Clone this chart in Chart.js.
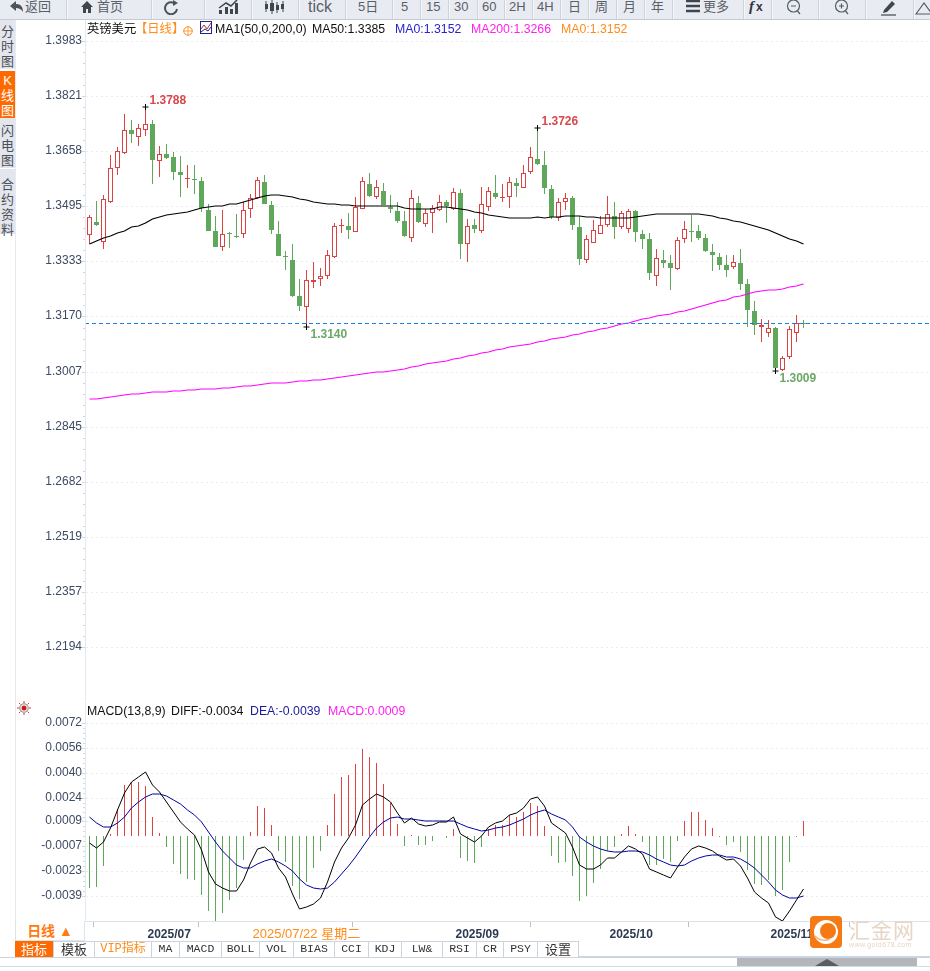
<!DOCTYPE html>
<html lang="zh">
<head>
<meta charset="UTF-8">
<title>英镑美元 日线</title>
<script src="https://cdn.jsdelivr.net/npm/chart.js"></script>
<style>
    html, body { margin: 0; padding: 0; background: #fff; overflow: hidden; }
    body { width: 930px; height: 971px; position: relative; font-family: "Liberation Sans", "Noto Sans CJK SC", sans-serif; }
    canvas { position: absolute; left: 15px; }
    #priceChart { top: 20px; }
    #macdChart { top: 702px; }
    .abs { position: absolute; white-space: nowrap; }
    #toolbar { position: absolute; left: 0; top: 0; width: 930px; height: 19px; background: #e9ebf2; border-bottom: 1px solid #c6cad3; overflow: hidden; }
    #toolbar .sep { position: absolute; top: 0; width: 1px; height: 19px; background: #cfd2da; border-right: 1px solid #f6f7fa; }
    #toolbar .t { position: absolute; top: 0; height: 13px; line-height: 13px; font-size: 13px; color: #5a5f68; white-space: nowrap; }
    #toolbar svg { position: absolute; top: 0; }
    .side { position: absolute; left: 0; width: 15px; background: #e4e6ee; color: #4a4f58; font-size: 13px; line-height: 15px; text-align: center; }
    .legend { position: absolute; font-size: 12.3px; line-height: 16px; white-space: nowrap; color: #111; z-index: 3; }
    .tab { position: absolute; top: 941px; height: 16px; line-height: 16px; text-align: center; font-size: 11.5px; color: #333; font-family: "Liberation Mono", "Noto Sans CJK SC", monospace; border-right: 1px solid #cdd4de; box-sizing: border-box; }
</style>
</head>
<body>

<div id="toolbar">
    <svg style="left:10px" width="14" height="14" viewBox="0 0 14 14"><path d="M0 6 L6 1 V4 C11 4 13 7 13 12 C11 9 9 8 6 8 V11 Z" fill="#4c525c"/></svg>
    <span class="t" style="left:25px">返回</span>
    <svg style="left:80px" width="14" height="14" viewBox="0 0 14 14"><path d="M7 1 L13 7 H11 V13 H8 V9 H6 V13 H3 V7 H1 Z" fill="#3f454f"/></svg>
    <span class="t" style="left:97px">首页</span>
    <svg style="left:163px" width="17" height="15" viewBox="0 0 17 15"><path d="M14 9 A6 6 0 1 1 11 3" fill="none" stroke="#4c525c" stroke-width="2"/><path d="M10 0 L15 3 L10 6 Z" fill="#4c525c"/></svg>
    <svg style="left:218px" width="20" height="14" viewBox="0 0 20 14"><path d="M1 14 V10 H4 V14 Z M7 14 V7 H10 V14 Z M12 14 V9 H15 V14 Z M17 14 V3 H20 V14 Z" fill="#3f454f"/><path d="M1 8 L8 3 L13 6 L19 0" fill="none" stroke="#3f454f" stroke-width="1.5"/></svg>
    <svg style="left:264px" width="21" height="14" viewBox="0 0 21 14"><path d="M2 1 V12 M8 0 V14 M13 2 V13 M19 1 V12" stroke="#3f454f" stroke-width="1"/><path d="M1 4 H4 V9 H1 Z M6 3 H10 V11 H6 Z M12 5 H15 V10 H12 Z M17 4 H20 V9 H17 Z" fill="#3f454f"/></svg>
    <span class="t" style="left:308px;font-size:16px;height:16px;line-height:14px">tick</span>
    <span class="t" style="left:358px">5日</span>
    <span class="t" style="left:401px">5</span>
    <span class="t" style="left:426px">15</span>
    <span class="t" style="left:454px">30</span>
    <span class="t" style="left:482px">60</span>
    <span class="t" style="left:509px">2H</span>
    <span class="t" style="left:537px">4H</span>
    <span class="t" style="left:568px">日</span>
    <span class="t" style="left:595px">周</span>
    <span class="t" style="left:623px">月</span>
    <span class="t" style="left:651px">年</span>
    <svg style="left:686px" width="14" height="13" viewBox="0 0 14 13"><path d="M0 1 H14 M0 6 H14 M0 11 H14" stroke="#3f454f" stroke-width="2.4"/></svg>
    <span class="t" style="left:703px">更多</span>
    <span class="t" style="left:749px;font-size:15px;font-weight:bold;color:#2f343c;font-family:'Liberation Serif',serif;font-style:italic">f</span>
    <span class="t" style="left:756px;font-size:12px;font-weight:bold;color:#2f343c;top:1px">x</span>
    <svg style="left:786px" width="17" height="16" viewBox="0 0 17 16"><circle cx="7.5" cy="6" r="6" fill="none" stroke="#555b65" stroke-width="1.2"/><path d="M5 6 H10 M11.5 11 L14 14" stroke="#555b65" stroke-width="1.2"/></svg>
    <svg style="left:834px" width="17" height="16" viewBox="0 0 17 16"><circle cx="7.5" cy="6" r="6" fill="none" stroke="#555b65" stroke-width="1.2"/><path d="M5 6 H10 M7.5 3.5 V8.5 M11.5 11 L14 14" stroke="#555b65" stroke-width="1.2"/></svg>
    <svg style="left:881px" width="16" height="16" viewBox="0 0 16 16"><path d="M3 10 L11 1 L14 4 L6 12 L2 13 Z" fill="#3f454f"/><path d="M0 15 H15" stroke="#3f454f" stroke-width="1.2"/></svg>
    <svg style="left:915px" width="15" height="16" viewBox="0 0 15 16"><path d="M1 14 L9 3 L17 14 Z" fill="none" stroke="#555b65" stroke-width="1.2"/></svg>
</div>
<script>
    // toolbar separators
    const toolbarSeps = [66, 151, 204, 251, 298, 345, 392, 420, 448, 477, 504, 532, 560, 588, 616, 644, 672, 743, 771, 818, 865, 913];
    toolbarSeps.forEach(x => {
        const d = document.createElement('div');
        d.className = 'sep';
        d.style.left = x + 'px';
        document.getElementById('toolbar').appendChild(d);
    });
</script>

<div class="side" style="top:20px;height:49px;padding-top:4px;box-sizing:border-box">分<br>时<br>图</div>
<div class="side" style="top:71px;height:47px;background:#ff6a00;color:#fff;padding-top:2px;box-sizing:border-box">K<br>线<br>图</div>
<div class="side" style="top:118px;height:50px;padding-top:5px;box-sizing:border-box">闪<br>电<br>图</div>
<div class="side" style="top:169px;height:65px;padding-top:8px;box-sizing:border-box">合<br>约<br>资<br>料</div>
<div class="abs" style="left:15px;top:20px;width:1px;height:901px;background:#e6ebf1"></div>

<div class="legend" style="left:87px;top:21px">英镑美元</div>
<div class="legend" style="left:135px;top:21px;color:#ff8c1a">【日线】</div>
<svg class="abs" style="left:183px;top:26px" width="10" height="10" viewBox="0 0 10 10"><circle cx="5" cy="5" r="4.2" fill="none" stroke="#ff8c1a"/><path d="M0 5 H10 M5 0 V10" stroke="#ff8c1a" stroke-width="0.8"/></svg>
<svg class="abs" style="left:200px;top:21px" width="12" height="13" viewBox="0 0 12 13"><rect x="0.5" y="0.5" width="11" height="12" fill="#fff" stroke="#1a2a8a"/><path d="M1 8 L4 4 L7 8 L11 2" fill="none" stroke="#d02030"/><path d="M1 11 L5 8 L8 10 L11 6" fill="none" stroke="#1a2a8a"/></svg>
<div class="legend" style="left:215px;top:21px">MA1(50,0,200,0)</div>
<div class="legend" style="left:312px;top:21px">MA50:1.3385</div>
<div class="legend" style="left:395px;top:21px;color:#2a22cc">MA0:1.3152</div>
<div class="legend" style="left:471px;top:21px;color:#ff22ee">MA200:1.3266</div>
<div class="legend" style="left:561px;top:21px;color:#ff8c1a">MA0:1.3152</div>

<canvas id="priceChart" width="915" height="681"></canvas>
<canvas id="macdChart" width="915" height="238"></canvas>

<svg class="abs" style="left:17px;top:701px" width="14" height="14" viewBox="0 0 14 14"><circle cx="7" cy="7" r="2.5" fill="#d01818"/><circle cx="7" cy="7" r="4.2" fill="none" stroke="#444" stroke-width="0.7"/><path d="M7 0 V2 M7 12 V14 M0 7 H2 M12 7 H14 M2 2 L3.4 3.4 M10.6 10.6 L12 12 M12 2 L10.6 3.4 M3.4 10.6 L2 12" stroke="#e02020" stroke-width="0.9"/></svg>
<div class="legend" style="left:87px;top:703px">MACD(13,8,9)</div>
<div class="legend" style="left:171px;top:703px">DIFF:-0.0034</div>
<div class="legend" style="left:250px;top:703px;color:#1a1a9c">DEA:-0.0039</div>
<div class="legend" style="left:328px;top:703px;color:#ff22ee">MACD:0.0009</div>

<div class="abs" style="left:15px;top:921px;width:70px;height:20px;line-height:20px;text-align:center;color:#ff7a10;font-size:14px;font-weight:bold;box-sizing:border-box;border:1px solid #dfe4ea;border-top:none;background:#fff">日线 ▲</div>

<div class="abs" style="left:15px;top:941px;width:564px;height:1px;background:#cdd4de"></div>
<div class="tab" style="left:15px;width:39px;background:#ff6a00;color:#fff;font-size:13px;font-family:'Noto Sans CJK SC',sans-serif">指标</div>
<div class="tab" style="left:54px;width:41px;font-size:13px;font-family:'Noto Sans CJK SC',sans-serif">模板</div>
<div class="tab" style="left:95px;width:57px;color:#ff8c1a;font-size:12px">VIP指标</div>
<div class="tab" style="left:152px;width:28px">MA</div>
<div class="tab" style="left:180px;width:42px">MACD</div>
<div class="tab" style="left:222px;width:38px">BOLL</div>
<div class="tab" style="left:260px;width:34px">VOL</div>
<div class="tab" style="left:294px;width:41px">BIAS</div>
<div class="tab" style="left:335px;width:34px">CCI</div>
<div class="tab" style="left:369px;width:33px">KDJ</div>
<div class="tab" style="left:402px;width:41px">LW&amp;</div>
<div class="tab" style="left:443px;width:34px">RSI</div>
<div class="tab" style="left:477px;width:27px">CR</div>
<div class="tab" style="left:504px;width:34px">PSY</div>
<div class="tab" style="left:538px;width:41px;font-size:13px;font-family:'Noto Sans CJK SC',sans-serif">设置</div>

<div class="abs" style="left:0;top:957px;width:930px;height:1px;background:#cdd4de"></div>
<div class="abs" style="left:579px;top:956px;width:351px;height:2px;background:#c9d5e0"></div>
<div class="abs" style="left:0;top:966px;width:930px;height:1px;background:#d5dbe3"></div>
<div class="abs" style="left:737px;top:958px;width:180px;height:8px;background:#b5b6bc"></div>
<svg class="abs" style="left:815px;top:958px" width="24" height="8"><path d="M0 8 L12 1 L24 8 Z" fill="#5c5d63"/></svg>

<!-- watermark -->
<div class="abs" style="left:810px;top:916px;width:32px;height:32px;background:#f57a14;border-radius:4px;z-index:5"></div>
<svg class="abs" style="left:810px;top:916px;z-index:6" width="32" height="32" viewBox="0 0 32 32"><circle cx="16" cy="16" r="12" fill="#fff"/><circle cx="18" cy="15" r="8" fill="#f57a14"/><path d="M5 20 C10 26 18 24 20 23" stroke="#f9b27a" stroke-width="1.5" fill="none"/></svg>
<div class="abs" style="left:849px;top:917px;font-size:21px;line-height:24px;letter-spacing:1px;color:#e7d6c6;font-family:'Noto Sans CJK SC',sans-serif;z-index:5">汇金网</div>
<div class="abs" style="left:849px;top:941px;font-size:7px;line-height:8px;letter-spacing:0.4px;color:#e7d6c6;z-index:5">www.gold678.com</div>

<script>
    // daily candles, oldest first
    const opens = [1.3412,1.3449,1.3391,1.3507,1.3610,1.3654,1.3721,1.3699,1.3720,1.3739,
        1.3628,1.3649,1.3641,1.3597,1.3576,1.3577,1.3570,1.3485,1.3422,1.3374,
        1.3416,1.3408,1.3413,1.3487,1.3521,1.3567,1.3498,1.3414,1.3349,1.3337,
        1.3230,1.3199,1.3273,1.3280,1.3291,1.3345,1.3437,1.3436,1.3421,1.3489,
        1.3561,1.3524,1.3541,1.3494,1.3481,1.3451,1.3403,1.3504,1.3444,1.3475,
        1.3484,1.3507,1.3487,1.3534,1.3385,1.3439,1.3424,1.3492,1.3534,1.3519,
        1.3524,1.3563,1.3550,1.3598,1.3634,1.3618,1.3546,1.3460,1.3509,1.3520,
        1.3434,1.3338,1.3388,1.3415,1.3441,1.3466,1.3435,1.3428,1.3481,1.3413,
        1.3398,1.3291,1.3337,1.3327,1.3311,1.3398,1.3423,1.3422,1.3402,1.3362,
        1.3345,1.3321,1.3317,1.3328,1.3265,1.3185,1.3138,1.3122,1.3136,1.3011,
        1.3049,1.3120,1.3152];
    const closes = [1.3463,1.3440,1.3516,1.3608,1.3658,1.3720,1.3710,1.3726,1.3738,1.3633,
        1.3649,1.3638,1.3598,1.3589,1.3579,1.3574,1.3490,1.3423,1.3376,1.3413,
        1.3413,1.3404,1.3484,1.3519,1.3572,1.3503,1.3426,1.3350,1.3345,1.3231,
        1.3202,1.3277,1.3277,1.3291,1.3351,1.3436,1.3440,1.3426,1.3492,1.3569,
        1.3526,1.3552,1.3499,1.3488,1.3453,1.3408,1.3519,1.3450,1.3475,1.3491,
        1.3507,1.3496,1.3537,1.3384,1.3438,1.3429,1.3501,1.3540,1.3523,1.3522,
        1.3566,1.3555,1.3593,1.3640,1.3620,1.3550,1.3463,1.3507,1.3519,1.3441,
        1.3340,1.3398,1.3425,1.3439,1.3472,1.3435,1.3475,1.3481,1.3421,1.3399,
        1.3299,1.3342,1.3329,1.3314,1.3395,1.3427,1.3420,1.3403,1.3364,1.3353,
        1.3322,1.3308,1.3330,1.3267,1.3190,1.3146,1.3144,1.3135,1.3019,1.3046,
        1.3132,1.3152,1.3149];
    const highs = [1.3470,1.3511,1.3529,1.3647,1.3670,1.3768,1.3751,1.3739,1.3788,1.3751,
        1.3674,1.3680,1.3656,1.3644,1.3618,1.3618,1.3581,1.3502,1.3467,1.3485,
        1.3420,1.3473,1.3507,1.3532,1.3581,1.3588,1.3511,1.3452,1.3364,1.3384,
        1.3280,1.3307,1.3331,1.3314,1.3366,1.3446,1.3458,1.3476,1.3522,1.3581,
        1.3594,1.3573,1.3563,1.3529,1.3507,1.3481,1.3544,1.3526,1.3488,1.3498,
        1.3528,1.3514,1.3549,1.3546,1.3457,1.3458,1.3552,1.3554,1.3588,1.3561,
        1.3582,1.3578,1.3618,1.3671,1.3726,1.3659,1.3557,1.3519,1.3534,1.3526,
        1.3467,1.3410,1.3454,1.3466,1.3526,1.3508,1.3483,1.3488,1.3484,1.3426,
        1.3416,1.3368,1.3366,1.3353,1.3406,1.3451,1.3471,1.3439,1.3413,1.3384,
        1.3357,1.3352,1.3351,1.3369,1.3280,1.3217,1.3162,1.3160,1.3139,1.3053,
        1.3142,1.3174,1.3160];
    const lows = [1.3384,1.3437,1.3370,1.3506,1.3589,1.3651,1.3684,1.3675,1.3704,1.3562,
        1.3583,1.3634,1.3574,1.3524,1.3549,1.3533,1.3480,1.3423,1.3376,1.3364,
        1.3373,1.3403,1.3403,1.3462,1.3516,1.3503,1.3414,1.3350,1.3307,1.3228,
        1.3187,1.3140,1.3255,1.3261,1.3281,1.3344,1.3418,1.3400,1.3420,1.3487,
        1.3522,1.3518,1.3499,1.3477,1.3447,1.3405,1.3391,1.3445,1.3435,1.3418,
        1.3483,1.3447,1.3486,1.3341,1.3332,1.3418,1.3418,1.3483,1.3518,1.3509,
        1.3490,1.3524,1.3549,1.3592,1.3618,1.3533,1.3458,1.3453,1.3485,1.3426,
        1.3323,1.3329,1.3386,1.3415,1.3434,1.3399,1.3429,1.3417,1.3390,1.3369,
        1.3279,1.3260,1.3313,1.3249,1.3308,1.3387,1.3391,1.3396,1.3361,1.3305,
        1.3307,1.3286,1.3309,1.3248,1.3140,1.3115,1.3095,1.3110,1.3009,1.3010,
        1.3045,1.3095,1.3136];

    const ma50 = [1.3385,1.3392,1.3402,1.3408,1.3417,1.3424,1.3433,1.3438,1.3446,1.3457,
        1.3464,1.3469,1.3472,1.3476,1.3479,1.3484,1.3491,1.3494,1.3495,1.3497,
        1.3501,1.3503,1.3508,1.3514,1.3519,1.3526,1.3528,1.3528,1.3525,1.3522,
        1.3518,1.3513,1.3508,1.3504,1.3501,1.3501,1.3500,1.3498,1.3497,1.3497,
        1.3497,1.3497,1.3497,1.3495,1.3495,1.3491,1.3488,1.3487,1.3489,1.3489,
        1.3492,1.3492,1.3491,1.3489,1.3484,1.3480,1.3475,1.3470,1.3466,1.3463,
        1.3462,1.3460,1.3460,1.3460,1.3463,1.3462,1.3463,1.3465,1.3467,1.3467,
        1.3466,1.3465,1.3463,1.3461,1.3460,1.3460,1.3460,1.3462,1.3463,1.3467,
        1.3470,1.3472,1.3472,1.3472,1.3472,1.3472,1.3472,1.3472,1.3470,1.3466,
        1.3462,1.3457,1.3452,1.3448,1.3442,1.3436,1.3431,1.3425,1.3416,1.3408,
        1.3399,1.3392,1.3385];
    const ma200 = [1.2925,1.2926,1.2928,1.2932,1.2935,1.2939,1.2940,1.2941,1.2944,1.2946,
        1.2946,1.2947,1.2949,1.2951,1.2952,1.2953,1.2955,1.2955,1.2956,1.2958,
        1.2960,1.2962,1.2964,1.2966,1.2969,1.2971,1.2973,1.2973,1.2975,1.2976,
        1.2978,1.2980,1.2981,1.2983,1.2986,1.2989,1.2992,1.2994,1.2996,1.2999,
        1.3002,1.3005,1.3006,1.3010,1.3012,1.3016,1.3021,1.3025,1.3030,1.3033,
        1.3036,1.3040,1.3043,1.3047,1.3052,1.3057,1.3061,1.3065,1.3070,1.3075,
        1.3080,1.3084,1.3087,1.3090,1.3094,1.3098,1.3103,1.3106,1.3110,1.3115,
        1.3119,1.3123,1.3128,1.3132,1.3137,1.3142,1.3147,1.3151,1.3156,1.3162,
        1.3166,1.3170,1.3174,1.3176,1.3182,1.3187,1.3192,1.3198,1.3203,1.3209,
        1.3215,1.3220,1.3228,1.3232,1.3237,1.3241,1.3245,1.3247,1.3249,1.3252,
        1.3256,1.3260,1.3266];

    const macdBars = [-0.00335,-0.00329,-0.00194,0.00009,0.0017,0.00324,0.00345,0.00341,0.00318,0.00119,
        0.00016,-0.00074,-0.00181,-0.00245,-0.0028,-0.00284,-0.0038,-0.00483,-0.00547,-0.00496,
        -0.00412,-0.0034,-0.00158,0.00022,0.00189,0.00176,0.00067,-0.001,-0.00168,-0.00323,
        -0.00406,-0.00301,-0.00207,-0.00098,0.00066,0.00266,0.00375,0.00388,0.00459,0.00555,
        0.00502,0.00465,0.0033,0.00206,0.00073,-0.00068,0.00003,-0.00061,-0.00061,-0.00036,
        -0.00006,-0.00014,0.00041,-0.00145,-0.00162,-0.00175,-0.00072,0.00039,0.00069,0.00069,
        0.00129,0.00118,0.00151,0.00208,0.00189,0.00061,-0.00132,-0.00177,-0.00171,-0.00258,
        -0.00419,-0.00387,-0.00305,-0.00213,-0.00098,-0.00072,0.00009,0.00061,0.00009,-0.00042,
        -0.00192,-0.00188,-0.00149,-0.00171,-0.00036,0.00093,0.0015,0.0015,0.00099,0.00048,
        -0.00012,-0.00059,-0.00042,-0.00104,-0.00222,-0.00312,-0.00318,-0.00286,-0.00389,-0.00351,
        -0.00169,-0.00012,0.00093];
    const diff = [-0.00046,-0.00078,-0.0004,0.0005,0.00163,0.00275,0.00345,0.00378,0.00405,0.00324,
        0.00281,0.00217,0.00153,0.00089,0.00039,0.00003,-0.00093,-0.00233,-0.00314,-0.0034,
        -0.00357,-0.00359,-0.00286,-0.00179,-0.00089,-0.00074,-0.00115,-0.00207,-0.00265,-0.00378,
        -0.00475,-0.00462,-0.0044,-0.00404,-0.003,-0.00168,-0.00083,-0.00019,0.00067,0.00196,
        0.00232,0.00266,0.00249,0.00213,0.00142,0.00078,0.0011,0.00073,0.00063,0.00069,
        0.00088,0.00086,0.00116,0.00007,-0.00014,-0.0004,-0.00004,0.00056,0.0008,0.00093,
        0.00131,0.00142,0.00174,0.00234,0.00245,0.00189,0.00078,0.00046,0.00018,-0.00072,
        -0.0019,-0.00218,-0.00216,-0.0019,-0.00147,-0.00147,-0.00104,-0.00068,-0.00087,-0.00119,
        -0.00216,-0.00237,-0.00254,-0.00276,-0.00205,-0.00136,-0.00089,-0.00068,-0.00079,-0.001,
        -0.00132,-0.00158,-0.00154,-0.00196,-0.00276,-0.00361,-0.00404,-0.00432,-0.00522,-0.00548,
        -0.00485,-0.00415,-0.00344];
    const dea = [0.00116,0.00078,0.00054,0.00054,0.00082,0.00121,0.00174,0.00217,0.00247,0.00264,
        0.00264,0.00256,0.00228,0.00202,0.00163,0.00131,0.00089,0.00024,-0.0004,-0.001,
        -0.00147,-0.0019,-0.00211,-0.00211,-0.00186,-0.00164,-0.00153,-0.00168,-0.00194,-0.00226,
        -0.00282,-0.00318,-0.0034,-0.00346,-0.0034,-0.00297,-0.00248,-0.00196,-0.00136,-0.00072,
        -0.00008,0.00046,0.00088,0.0011,0.00116,0.00103,0.00108,0.00099,0.00093,0.00093,
        0.00093,0.00093,0.00093,0.00073,0.00056,0.00039,0.00026,0.00035,0.00048,0.00052,
        0.00065,0.00084,0.00103,0.00131,0.00153,0.00163,0.00138,0.00121,0.00099,0.00052,
        -0.00008,-0.0004,-0.00068,-0.00085,-0.00098,-0.00109,-0.00104,-0.001,-0.001,-0.00104,
        -0.00126,-0.00149,-0.00171,-0.00192,-0.00194,-0.00188,-0.00164,-0.00143,-0.00132,-0.00128,
        -0.00128,-0.00136,-0.00141,-0.00154,-0.00179,-0.00211,-0.00254,-0.00297,-0.00351,-0.00383,
        -0.00404,-0.00402,-0.00391];
    const macdBase = -0.00007; // histogram baseline sits just under the zero of the tick labels

    const priceTicks = [1.3983,1.3821,1.3658,1.3495,1.3333,1.3170,1.3007,1.2845,1.2682,1.2519,1.2357,1.2194];
    const macdTicks = [0.0072,0.0056,0.0040,0.0024,0.0009,-0.0007,-0.0023,-0.0039];
    const xTickIndex = [8, 23, 52, 74, 97];
    const xTickLabels = ['2025/07', '2025/07/22 星期二', '2025/09', '2025/10', '2025/11'];
    const lastPrice = 1.3152;

    // highest and lowest marks on the candles
    const extremeIndex = [8, 31, 64, 98];
    const extremeValues = [1.3788, 1.3140, 1.3726, 1.3009];

    const RED = '#dc4242';
    const GREEN = '#5fa75a';
    const points = arr => arr.map((v, i) => ({ x: i, y: v }));

    // same horizontal mapping on both panels: 7px a day, first candle centred on 89.5
    const xMin = (85 - 89.5) / 7;
    const xMax = (930 - 89.5) / 7;

    // keep the plot area pinned to the canvas edges, labels may overflow
    function noPadding(s) {
        s.paddingTop = 0; s.paddingBottom = 0; s.paddingLeft = 0; s.paddingRight = 0;
    }

    function yAxis(tickValues, min, max) {
        return {
            position: 'left', min, max,
            alignToPixels: true,
            afterFit: s => { s.width = 70; noPadding(s); },
            afterBuildTicks: s => { s.ticks = tickValues.map(value => ({ value })); },
            ticks: {
                autoSkip: false, padding: 0, color: '#3d4a63',
                font: { family: 'Liberation Sans', size: 12 },
                callback: v => v.toFixed(4)
            },
            grid: { color: '#ececec', tickColor: '#cfd8e2', tickLength: 3, lineWidth: 1 },
            border: { color: '#e3e9ef', dash: [2, 3] }
        };
    }

    // small ticks between the labelled ones, solid axis line, both panels
    const minorTicks = {
        id: 'minorTicks',
        afterDraw(chart) {
            const { ctx, chartArea, scales: { y } } = chart;
            ctx.save();
            ctx.strokeStyle = '#e3e9ef';
            ctx.beginPath();
            ctx.moveTo(chartArea.left + 0.5, chartArea.top);
            ctx.lineTo(chartArea.left + 0.5, chartArea.bottom);
            ctx.stroke();
            ctx.strokeStyle = '#cfd8e2';
            const vals = y.ticks.map(t => t.value);
            for (let i = 0; i < vals.length - 1; i++) {
                for (let k = 1; k < 5; k++) {
                    const py = Math.round(y.getPixelForValue(vals[i] + (vals[i + 1] - vals[i]) * k / 5)) + 0.5;
                    ctx.beginPath();
                    ctx.moveTo(chartArea.left - 2, py);
                    ctx.lineTo(chartArea.left, py);
                    ctx.stroke();
                }
            }
            ctx.restore();
        }
    };

    // last price line and the high/low captions
    const priceOverlay = {
        id: 'priceOverlay',
        afterDatasetsDraw(chart) {
            const { ctx, chartArea, scales: { x, y } } = chart;
            ctx.save();
            const py = Math.round(y.getPixelForValue(lastPrice)) + 0.5;
            ctx.strokeStyle = '#1b7fea';
            ctx.setLineDash([4, 3]);
            ctx.beginPath();
            ctx.moveTo(chartArea.left, py);
            ctx.lineTo(chartArea.right, py);
            ctx.stroke();
            ctx.setLineDash([]);

            ctx.font = 'bold 12px "Liberation Sans"';
            ctx.textBaseline = 'middle';
            extremeIndex.forEach((idx, n) => {
                const isHigh = n % 2 === 0;
                ctx.fillStyle = isHigh ? '#d8474c' : '#6ba766';
                const px = x.getPixelForValue(idx) + 4;
                const ty = y.getPixelForValue(extremeValues[n]) + (isHigh ? -6 : 8);
                ctx.fillText(extremeValues[n].toFixed(4), px, ty);
            });
            ctx.restore();
        }
    };

    const xBase = { type: 'linear', min: xMin, max: xMax, offset: false };

    new Chart(document.getElementById('priceChart'), {
        type: 'bar',
        data: {
            datasets: [
                {
                    type: 'line', label: 'marks', order: 0, showLine: false,
                    data: extremeIndex.map((idx, n) => ({ x: idx, y: extremeValues[n] })),
                    pointStyle: 'cross', pointRadius: 3, pointBorderColor: '#000', pointBorderWidth: 1
                },
                { type: 'line', label: 'MA50', order: 1, data: points(ma50), borderColor: '#000', borderWidth: 1.2, pointRadius: 0, tension: 0 },
                { type: 'line', label: 'MA200', order: 1, data: points(ma200), borderColor: '#ff00ff', borderWidth: 1.2, pointRadius: 0, tension: 0 },
                {
                    label: 'body', order: 2, grouped: false, barThickness: 5, inflateAmount: 0, borderSkipped: false, borderWidth: 1,
                    data: opens.map((o, i) => ({ x: i, y: [o, closes[i]] })),
                    backgroundColor: c => closes[c.dataIndex] >= opens[c.dataIndex] ? '#fff' : GREEN,
                    borderColor: c => closes[c.dataIndex] >= opens[c.dataIndex] ? RED : GREEN
                },
                {
                    label: 'wick', order: 3, grouped: false, barThickness: 1, inflateAmount: 0, borderWidth: 0,
                    data: lows.map((l, i) => ({ x: i, y: [l, highs[i]] })),
                    backgroundColor: c => closes[c.dataIndex] >= opens[c.dataIndex] ? RED : GREEN
                }
            ]
        },
        options: {
            responsive: false, animation: false,
            layout: { padding: 0, autoPadding: false },
            plugins: { legend: { display: false }, tooltip: { enabled: false } },
            scales: {
                x: { ...xBase, display: false },
                y: yAxis(priceTicks, 1.20341, 1.40459)
            }
        },
        plugins: [minorTicks, priceOverlay]
    });

    new Chart(document.getElementById('macdChart'), {
        type: 'bar',
        data: {
            datasets: [
                { type: 'line', label: 'DIFF', order: 0, data: points(diff), borderColor: '#000', borderWidth: 1, pointRadius: 0, tension: 0 },
                { type: 'line', label: 'DEA', order: 0, data: points(dea), borderColor: '#0000a0', borderWidth: 1, pointRadius: 0, tension: 0 },
                {
                    label: 'MACD', order: 1, grouped: false, barThickness: 1, inflateAmount: 0, borderWidth: 0,
                    data: macdBars.map((v, i) => ({ x: i, y: [macdBase, v] })),
                    backgroundColor: c => macdBars[c.dataIndex] > 0 ? RED : GREEN
                }
            ]
        },
        options: {
            responsive: false, animation: false,
            layout: { padding: 0, autoPadding: false },
            plugins: { legend: { display: false }, tooltip: { enabled: false } },
            scales: {
                x: {
                    ...xBase,
                    afterFit: s => { s.height = 19; noPadding(s); },
                    afterBuildTicks: s => { s.ticks = xTickIndex.map(value => ({ value })); },
                    ticks: {
                        autoSkip: false, maxRotation: 0, align: 'start', padding: 0, labelOffset: 2,
                        color: c => c.index === 1 ? '#ff8c1a' : '#2c3a50',
                        font: c => c.index === 1
                            ? { family: 'Liberation Sans, Noto Sans CJK SC', size: 13 }
                            : { family: 'Liberation Sans', size: 12, weight: 'bold' },
                        callback: (v, i) => xTickLabels[i]
                    },
                    grid: { drawOnChartArea: false, tickLength: 6, tickColor: '#b8c0cc' },
                    border: { color: '#dfe4ea' }
                },
                y: yAxis(macdTicks, -0.0055, 0.00857)
            }
        },
        plugins: [minorTicks]
    });
</script>
</body>
</html>
